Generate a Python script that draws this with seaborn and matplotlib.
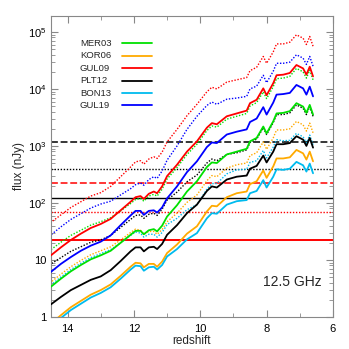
import numpy as np
import matplotlib
matplotlib.use("Agg")
import matplotlib.pyplot as plt
import seaborn as sns
from matplotlib.ticker import FuncFormatter, LogLocator, MultipleLocator, NullFormatter

# ------------------- Data (log10 flux in nJy vs redshift) -------------------- #
redshift = [14.5, 14.2, 13.9, 13.6, 13.3, 13.0, 12.7, 12.4, 12.1, 11.95, 11.8, 11.7,
            11.55, 11.4, 11.3, 11.15, 11.0, 10.7, 10.4, 10.1, 9.8, 9.65, 9.5, 9.2,
            8.9, 8.6, 8.5, 8.3, 8.1, 8.0, 7.8, 7.7, 7.5, 7.3, 7.1, 6.9, 6.8, 6.7, 6.6]

# solid lines
mer03 = [0.53, 0.67, 0.80, 0.91, 1.01, 1.08, 1.16, 1.30, 1.44, 1.51, 1.51, 1.45,
         1.52, 1.54, 1.50, 1.60, 1.76, 1.96, 2.20, 2.38, 2.63, 2.71, 2.70, 2.85,
         2.90, 2.95, 3.08, 3.14, 3.34, 3.22, 3.43, 3.57, 3.58, 3.61, 3.75, 3.69, 3.58, 3.72, 3.55]
kor06 = [-0.12, 0.03, 0.17, 0.28, 0.39, 0.47, 0.57, 0.72, 0.88, 0.95, 0.94, 0.87,
         0.93, 0.93, 0.88, 0.97, 1.12, 1.27, 1.46, 1.59, 1.85, 1.95, 1.94, 2.10,
         2.17, 2.20, 2.33, 2.38, 2.57, 2.44, 2.64, 2.78, 2.78, 2.80, 2.93, 2.87, 2.76, 2.90, 2.73]
gul09 = [1.08, 1.22, 1.35, 1.46, 1.56, 1.63, 1.72, 1.87, 2.02, 2.10, 2.12, 2.07,
         2.16, 2.20, 2.17, 2.29, 2.47, 2.67, 2.90, 3.08, 3.32, 3.40, 3.38, 3.52,
         3.57, 3.62, 3.75, 3.81, 4.01, 3.89, 4.10, 4.24, 4.25, 4.28, 4.42, 4.36, 4.25, 4.39, 4.22]
plt12 = [0.22, 0.35, 0.47, 0.56, 0.65, 0.71, 0.82, 0.98, 1.15, 1.22, 1.22, 1.15,
         1.22, 1.23, 1.19, 1.28, 1.44, 1.61, 1.82, 1.97, 2.21, 2.29, 2.27, 2.41,
         2.46, 2.48, 2.60, 2.65, 2.83, 2.71, 2.90, 3.03, 3.03, 3.05, 3.17, 3.11, 3.00, 3.14, 2.97]
bon13 = [-0.17, -0.02, 0.12, 0.23, 0.34, 0.42, 0.52, 0.67, 0.83, 0.90, 0.89, 0.81,
         0.87, 0.88, 0.83, 0.91, 1.06, 1.19, 1.36, 1.47, 1.73, 1.82, 1.81, 1.97,
         2.03, 2.05, 2.17, 2.21, 2.40, 2.27, 2.46, 2.59, 2.58, 2.60, 2.72, 2.66, 2.55, 2.69, 2.52]
gul19 = [0.79, 0.93, 1.05, 1.16, 1.25, 1.32, 1.43, 1.61, 1.78, 1.86, 1.86, 1.79,
         1.86, 1.87, 1.83, 1.92, 2.08, 2.29, 2.54, 2.73, 2.98, 3.06, 3.05, 3.20,
         3.25, 3.29, 3.42, 3.48, 3.68, 3.55, 3.76, 3.90, 3.91, 3.93, 4.07, 4.01, 3.90, 4.04, 3.87]

# dotted lines
mer03_dot = [1.18, 1.31, 1.43, 1.52, 1.61, 1.67, 1.74, 1.86, 1.99, 2.06, 2.08, 2.03,
             2.12, 2.15, 2.12, 2.24, 2.42, 2.62, 2.85, 3.03, 3.27, 3.35, 3.33, 3.47,
             3.52, 3.57, 3.70, 3.76, 3.95, 3.83, 4.04, 4.18, 4.19, 4.22, 4.36, 4.30, 4.19, 4.33, 4.16]
kor06_dot = [0.61, 0.75, 0.88, 0.99, 1.09, 1.16, 1.23, 1.35, 1.48, 1.54, 1.52, 1.45,
             1.50, 1.50, 1.45, 1.53, 1.67, 1.82, 2.01, 2.14, 2.39, 2.48, 2.46, 2.61,
             2.67, 2.70, 2.83, 2.88, 3.07, 2.94, 3.14, 3.28, 3.28, 3.30, 3.43, 3.37, 3.26, 3.40, 3.23]
gul09_dot = [1.66, 1.79, 1.92, 2.02, 2.12, 2.18, 2.29, 2.46, 2.63, 2.72, 2.74, 2.68,
             2.77, 2.81, 2.78, 2.89, 3.07, 3.29, 3.53, 3.73, 3.95, 4.03, 4.00, 4.12,
             4.16, 4.20, 4.32, 4.38, 4.57, 4.45, 4.65, 4.79, 4.79, 4.82, 4.95, 4.89, 4.78, 4.92, 4.75]
plt12_dot = [0.93, 1.04, 1.15, 1.23, 1.31, 1.35, 1.43, 1.57, 1.71, 1.78, 1.79, 1.73,
             1.80, 1.82, 1.78, 1.89, 2.05, 2.19, 2.37, 2.49, 2.70, 2.77, 2.74, 2.85,
             2.88, 2.93, 3.06, 3.12, 3.32, 3.20, 3.41, 3.55, 3.55, 3.58, 3.72, 3.66, 3.55, 3.69, 3.52]
bon13_dot = [0.56, 0.70, 0.83, 0.94, 1.04, 1.11, 1.18, 1.30, 1.43, 1.49, 1.47, 1.40,
             1.45, 1.45, 1.40, 1.48, 1.62, 1.73, 1.88, 1.97, 2.24, 2.34, 2.34, 2.51,
             2.58, 2.59, 2.71, 2.74, 2.92, 2.79, 2.98, 3.11, 3.09, 3.10, 3.22, 3.16, 3.05, 3.19, 3.02]
gul19_dot = [1.44, 1.58, 1.71, 1.81, 1.91, 1.98, 2.03, 2.14, 2.25, 2.32, 2.35, 2.31,
             2.41, 2.46, 2.43, 2.56, 2.75, 3.00, 3.29, 3.52, 3.71, 3.77, 3.73, 3.82,
             3.84, 3.87, 4.00, 4.05, 4.24, 4.11, 4.31, 4.45, 4.45, 4.47, 4.60, 4.54, 4.43, 4.57, 4.40]

model_names = ["MER03", "KOR06", "GUL09", "PLT12", "BON13", "GUL19"]
model_colors = ["#00e000", "#ffaa00", "#ff0000", "#000000", "#00bbee", "#0000ff"]
solid_series = [mer03, kor06, gul09, plt12, bon13, gul19]
dotted_series = [mer03_dot, kor06_dot, gul09_dot, plt12_dot, bon13_dot, gul19_dot]

# horizontal reference levels (nJy)
hline_values = [1150, 390, 222, 120, 70, 22.7]
hline_colors = ["black", "black", "red", "black", "red", "red"]
hline_styles = [(0, (4.5, 1.8)), (0, (1, 1.2)), (0, (4.5, 1.8)), "-", (0, (1, 1.2)), "-"]
hline_widths = [1.1, 1.0, 1.1, 1.0, 1.0, 1.4]

# ------------------- Plot ------------------------ #
sns.set_style("ticks")
plt.rcParams["font.family"] = ["Liberation Sans", "DejaVu Sans"]
plt.rcParams["mathtext.default"] = "regular"

fig = plt.figure(figsize=(3.49, 3.49), dpi=100)
ax = fig.add_axes([0.146, 0.092, 0.808, 0.862])

for val, col, ls, lw in zip(hline_values, hline_colors, hline_styles, hline_widths):
    ax.axhline(val, color=col, linestyle=ls, linewidth=lw, zorder=1)

z = np.array(redshift)
for vals, col in zip(dotted_series, model_colors):
    sns.lineplot(x=z, y=10 ** np.array(vals), color=col, linestyle=(0, (1, 1.2)),
                 linewidth=1.0, ax=ax, zorder=2)
for vals, col in zip(solid_series, model_colors):
    sns.lineplot(x=z, y=10 ** np.array(vals), color=col, linewidth=1.3, ax=ax, zorder=3)

ax.set_yscale("log")
ax.set_xlim(14.5, 6)
ax.set_ylim(1, 1.9e5)

ax.xaxis.set_major_locator(MultipleLocator(2))
ax.xaxis.set_minor_locator(MultipleLocator(1))
ax.yaxis.set_major_locator(LogLocator(base=10, numticks=10))
ax.yaxis.set_minor_locator(LogLocator(base=10, subs=np.arange(2, 10), numticks=20))
ax.yaxis.set_minor_formatter(NullFormatter())


def yfmt(v, pos):
    n = int(round(np.log10(v)))
    if n == 0:
        return "1"
    if n == 1:
        return "10"
    return r"$10^{%d}$" % n


ax.yaxis.set_major_formatter(FuncFormatter(yfmt))
ax.xaxis.set_major_formatter(FuncFormatter(lambda v, p: "%d" % v))

ax.tick_params(which="both", direction="in", top=True, right=True, color="#888888",
               labelsize=8, labelcolor="black")
ax.tick_params(which="major", length=5, width=0.8)
ax.tick_params(which="minor", length=3, width=0.6)
ax.tick_params(axis="x", which="major", pad=5)
for sp in ax.spines.values():
    sp.set_color("#888888")
    sp.set_linewidth(0.8)

ax.set_xlabel("redshift", fontsize=8.5, labelpad=1)
ax.set_ylabel("flux (nJy)", fontsize=8.5, labelpad=2)

ax.text(0.96, 0.115, "12.5 GHz", transform=ax.transAxes, ha="right", va="center",
        fontsize=10)

# legend: names on the left, line samples on the right
for k, (name, col) in enumerate(zip(model_names, model_colors)):
    yk = 0.909 - k * 0.0412
    ax.text(0.103, yk, name, transform=ax.transAxes, ha="left", va="center", fontsize=6.8)
    ax.plot([0.252, 0.358], [yk, yk], transform=ax.transAxes, color=col, linewidth=1.3)

plt.savefig("out.png", dpi=100)
